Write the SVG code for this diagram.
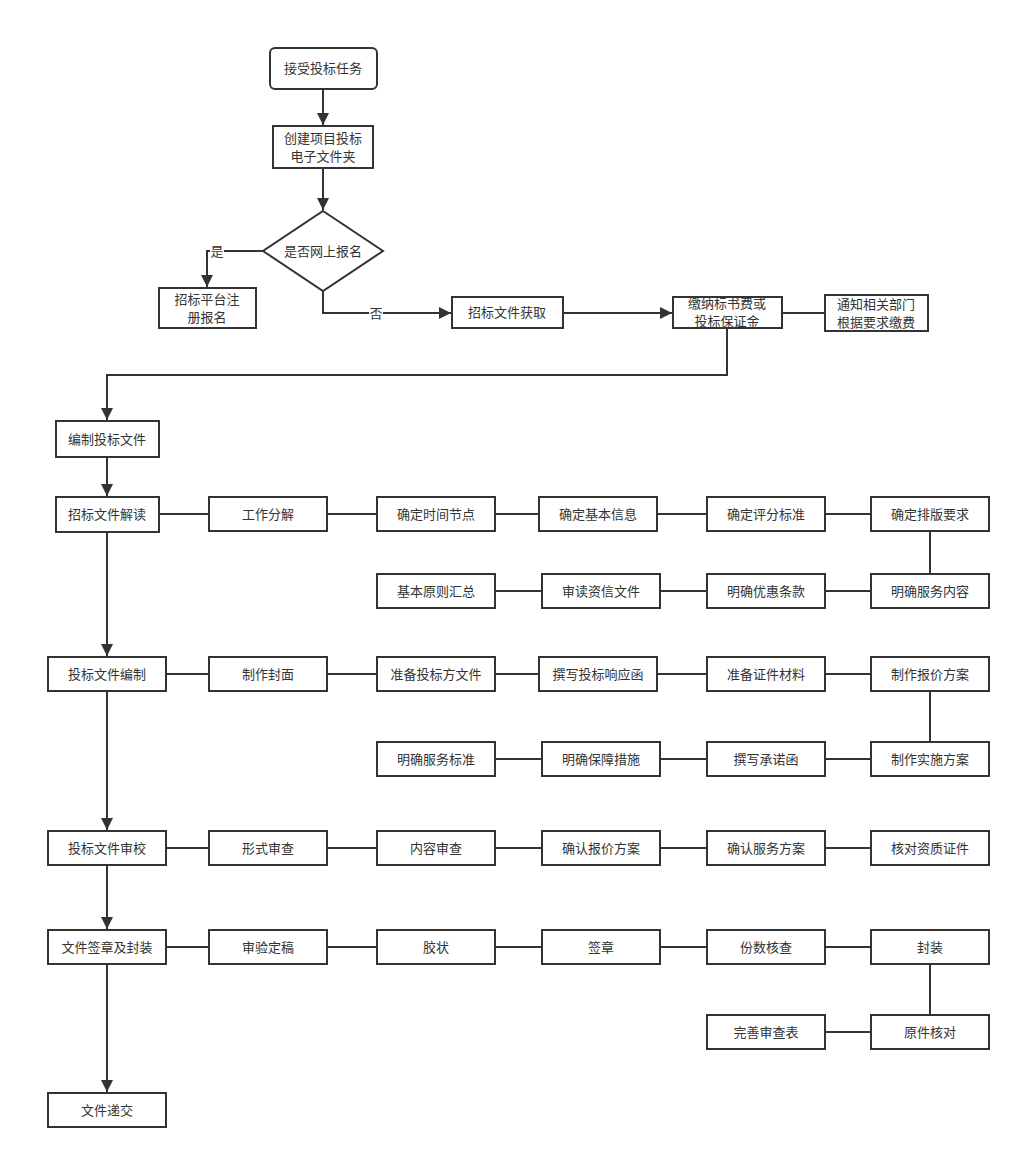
<svg xmlns="http://www.w3.org/2000/svg" width="1021" height="1159" viewBox="0 0 1021 1159">
<style>
.b{fill:#fff;stroke:#333;stroke-width:2}
.t{font-family:"Noto Sans CJK SC","Liberation Sans",sans-serif;font-size:13px;fill:#333;text-anchor:middle;dominant-baseline:central;transform:translateY(-1px)}
.c{fill:none;stroke:#333;stroke-width:2}
.a{marker-end:url(#ah)}
</style>
<defs>
<marker id="ah" viewBox="0 0 10 10" refX="10" refY="5" markerWidth="12" markerHeight="12" markerUnits="userSpaceOnUse" orient="auto">
<path d="M0,0 L10,5 L0,10 z" fill="#333"/>
</marker>
</defs>
<rect width="1021" height="1159" fill="#fff"/>
<g id="connectors">
<path class="c a" d="M323,89 V125"/>
<path class="c a" d="M323,168 V210"/>
<path class="c a" d="M263,251 H207 V287"/>
<path class="c a" d="M323,291 V313 H451"/>
<path class="c a" d="M563,313 H672"/>
<path class="c" d="M782,313 H825"/>
<path class="c a" d="M727,328 V375 H107 V420"/>
<path class="c a" d="M107,457 V496"/>
<path class="c a" d="M107,532 V656"/>
<path class="c a" d="M107,691 V830"/>
<path class="c a" d="M107,865 V929"/>
<path class="c a" d="M107,964 V1092"/>
<path class="c" d="M159,514 H209 M327,514 H377 M495,514 H539 M657,514 H707 M825,514 H871"/>
<path class="c" d="M930,531 V574"/>
<path class="c" d="M495,591 H542 M660,591 H707 M825,591 H871"/>
<path class="c" d="M166,674 H209 M327,674 H377 M495,674 H539 M657,674 H707 M825,674 H871"/>
<path class="c" d="M930,691 V742"/>
<path class="c" d="M495,759 H542 M660,759 H707 M825,759 H871"/>
<path class="c" d="M166,848 H209 M327,848 H377 M495,848 H542 M660,848 H707 M825,848 H871"/>
<path class="c" d="M166,947 H209 M327,947 H377 M495,947 H542 M660,947 H707 M825,947 H871"/>
<path class="c" d="M930,964 V1015"/>
<path class="c" d="M825,1032 H871"/>
<rect x="210" y="244" width="14" height="15" fill="#fff"/>
<text class="t" x="217" y="251">是</text>
<rect x="369" y="305" width="14" height="15" fill="#fff"/>
<text class="t" x="376" y="313">否</text>
</g>
<g id="n1"><rect class="b" x="270" y="48" width="107" height="41" rx="5"/><text class="t" x="323" y="68">接受投标任务</text></g>
<g id="n2"><rect class="b" x="273" y="126" width="100" height="42"/><text class="t" x="323" y="138">创建项目投标</text><text class="t" x="323" y="156">电子文件夹</text></g>
<g id="n3"><path class="b" d="M323,211 L383,251 L323,291 L263,251 Z"/><text class="t" x="323" y="251">是否网上报名</text></g>
<g id="n4"><rect class="b" x="159" y="288" width="97" height="40"/><text class="t" x="207" y="299">招标平台注</text><text class="t" x="207" y="317">册报名</text></g>
<g id="n5"><rect class="b" x="452" y="297" width="111" height="31"/><text class="t" x="507" y="312">招标文件获取</text></g>
<g id="n6"><rect class="b" x="673" y="297" width="109" height="31"/><text class="t" x="727" y="303">缴纳标书费或</text><text class="t" x="727" y="321">投标保证金</text></g>
<g id="n7"><rect class="b" x="825" y="295" width="103" height="36"/><text class="t" x="876" y="304">通知相关部门</text><text class="t" x="876" y="322">根据要求缴费</text></g>
<g id="n8"><rect class="b" x="56" y="421" width="103" height="36"/><text class="t" x="107" y="439">编制投标文件</text></g>
<g id="n9"><rect class="b" x="56" y="497" width="103" height="35"/><text class="t" x="107" y="514">招标文件解读</text></g>
<g id="r1a"><rect class="b" x="209" y="497" width="118" height="34"/><text class="t" x="268" y="514">工作分解</text></g>
<g id="r1b"><rect class="b" x="377" y="497" width="118" height="34"/><text class="t" x="436" y="514">确定时间节点</text></g>
<g id="r1c"><rect class="b" x="539" y="497" width="118" height="34"/><text class="t" x="598" y="514">确定基本信息</text></g>
<g id="r1d"><rect class="b" x="707" y="497" width="118" height="34"/><text class="t" x="766" y="514">确定评分标准</text></g>
<g id="r1e"><rect class="b" x="871" y="497" width="118" height="34"/><text class="t" x="930" y="514">确定排版要求</text></g>
<g id="r2a"><rect class="b" x="377" y="574" width="118" height="34"/><text class="t" x="436" y="591">基本原则汇总</text></g>
<g id="r2b"><rect class="b" x="542" y="574" width="118" height="34"/><text class="t" x="601" y="591">审读资信文件</text></g>
<g id="r2c"><rect class="b" x="707" y="574" width="118" height="34"/><text class="t" x="766" y="591">明确优惠条款</text></g>
<g id="r2d"><rect class="b" x="871" y="574" width="118" height="34"/><text class="t" x="930" y="591">明确服务内容</text></g>
<g id="n10"><rect class="b" x="48" y="657" width="118" height="34"/><text class="t" x="107" y="674">投标文件编制</text></g>
<g id="r3a"><rect class="b" x="209" y="657" width="118" height="34"/><text class="t" x="268" y="674">制作封面</text></g>
<g id="r3b"><rect class="b" x="377" y="657" width="118" height="34"/><text class="t" x="436" y="674">准备投标方文件</text></g>
<g id="r3c"><rect class="b" x="539" y="657" width="118" height="34"/><text class="t" x="598" y="674">撰写投标响应函</text></g>
<g id="r3d"><rect class="b" x="707" y="657" width="118" height="34"/><text class="t" x="766" y="674">准备证件材料</text></g>
<g id="r3e"><rect class="b" x="871" y="657" width="118" height="34"/><text class="t" x="930" y="674">制作报价方案</text></g>
<g id="r4a"><rect class="b" x="377" y="742" width="118" height="34"/><text class="t" x="436" y="759">明确服务标准</text></g>
<g id="r4b"><rect class="b" x="542" y="742" width="118" height="34"/><text class="t" x="601" y="759">明确保障措施</text></g>
<g id="r4c"><rect class="b" x="707" y="742" width="118" height="34"/><text class="t" x="766" y="759">撰写承诺函</text></g>
<g id="r4d"><rect class="b" x="871" y="742" width="118" height="34"/><text class="t" x="930" y="759">制作实施方案</text></g>
<g id="n11"><rect class="b" x="48" y="831" width="118" height="34"/><text class="t" x="107" y="848">投标文件审校</text></g>
<g id="r5a"><rect class="b" x="209" y="831" width="118" height="34"/><text class="t" x="268" y="848">形式审查</text></g>
<g id="r5b"><rect class="b" x="377" y="831" width="118" height="34"/><text class="t" x="436" y="848">内容审查</text></g>
<g id="r5c"><rect class="b" x="542" y="831" width="118" height="34"/><text class="t" x="601" y="848">确认报价方案</text></g>
<g id="r5d"><rect class="b" x="707" y="831" width="118" height="34"/><text class="t" x="766" y="848">确认服务方案</text></g>
<g id="r5e"><rect class="b" x="871" y="831" width="118" height="34"/><text class="t" x="930" y="848">核对资质证件</text></g>
<g id="n12"><rect class="b" x="48" y="930" width="118" height="34"/><text class="t" x="107" y="947">文件签章及封装</text></g>
<g id="r6a"><rect class="b" x="209" y="930" width="118" height="34"/><text class="t" x="268" y="947">审验定稿</text></g>
<g id="r6b"><rect class="b" x="377" y="930" width="118" height="34"/><text class="t" x="436" y="947">胶状</text></g>
<g id="r6c"><rect class="b" x="542" y="930" width="118" height="34"/><text class="t" x="601" y="947">签章</text></g>
<g id="r6d"><rect class="b" x="707" y="930" width="118" height="34"/><text class="t" x="766" y="947">份数核查</text></g>
<g id="r6e"><rect class="b" x="871" y="930" width="118" height="34"/><text class="t" x="930" y="947">封装</text></g>
<g id="r7a"><rect class="b" x="707" y="1015" width="118" height="34"/><text class="t" x="766" y="1032">完善审查表</text></g>
<g id="r7b"><rect class="b" x="871" y="1015" width="118" height="34"/><text class="t" x="930" y="1032">原件核对</text></g>
<g id="n13"><rect class="b" x="48" y="1093" width="118" height="34"/><text class="t" x="107" y="1110">文件递交</text></g>
</svg>
